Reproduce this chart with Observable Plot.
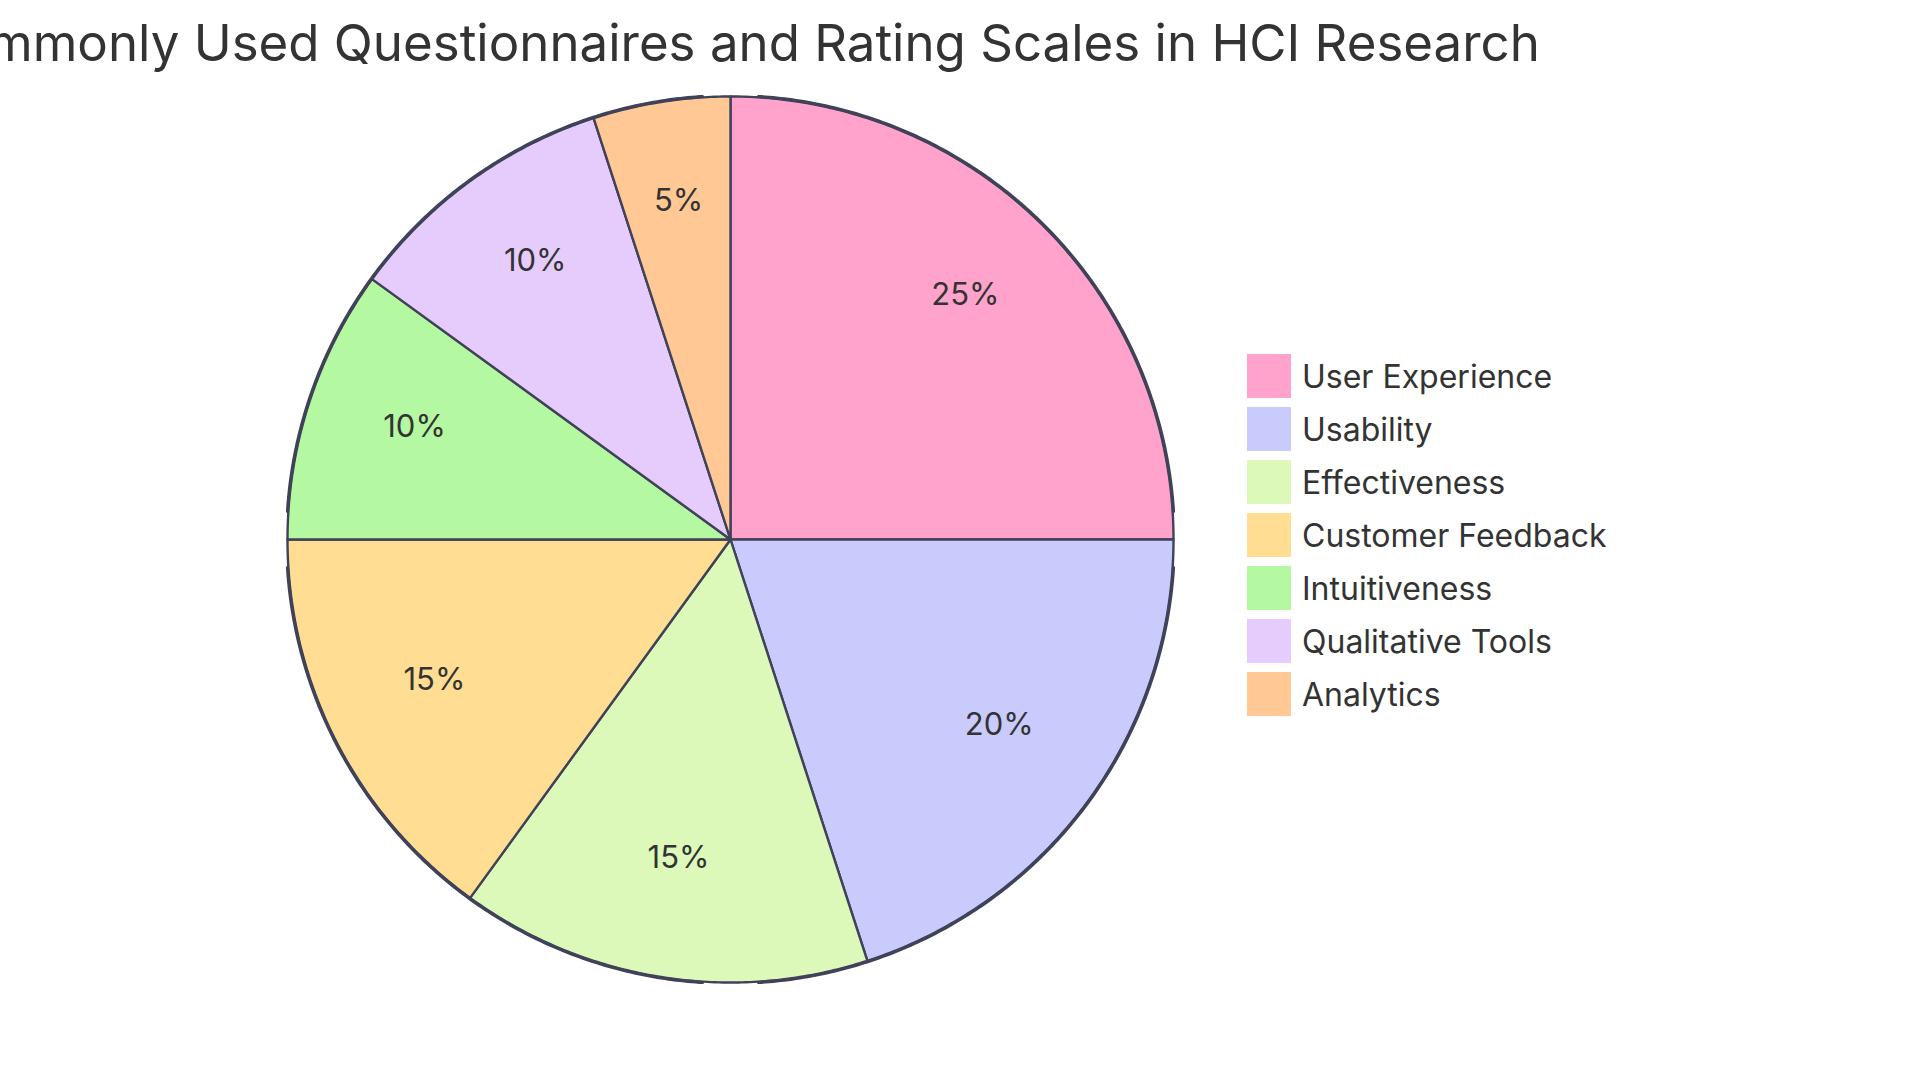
<!DOCTYPE html>
<html>
<head>
<meta charset="utf-8">
<script src="https://cdn.jsdelivr.net/npm/d3@7"></script>
<script src="https://cdn.jsdelivr.net/npm/@observablehq/plot@0.6"></script>
<style>
  html, body { margin: 0; padding: 0; width: 1920px; height: 1080px; overflow: hidden; background: #fff; }
  #wrap { position: relative; width: 1920px; height: 1080px; }
  #chart { position: absolute; left: 0; top: 0; }
  #title { position: absolute; left: 730px; top: 17px; transform: translateX(-50%); white-space: nowrap;
    font-family: Inter, "Noto Sans", sans-serif; font-size: 51px; color: #333; line-height: 1; }
  #legend { position: absolute; left: 1247px; top: 354px; }
  .lg-swatches { font-family: Inter, "Noto Sans", sans-serif !important; font-size: 32px !important; color: #333 !important; margin: 0 !important; min-height: 0 !important; }
  .lg-swatch { padding-bottom: 9px !important; display: flex !important; align-items: center !important; }
  .lg-swatch svg { margin-right: 11px !important; }
</style>
</head>
<body>
<div id="wrap">
  <div id="chart"></div>
  <div id="title">Commonly Used Questionnaires and Rating Scales in HCI Research</div>
  <div id="legend"></div>
</div>
<script>
const categories = ["User Experience", "Usability", "Effectiveness", "Customer Feedback", "Intuitiveness", "Qualitative Tools", "Analytics"];
const values = [25, 20, 15, 15, 10, 10, 5];
const colors = ["#FFA3CD", "#C9CBFD", "#DCF9BA", "#FFDE93", "#B4F8A1", "#E6CCFD", "#FFC894"];

const data = categories.map((c, i) => ({label: c, value: values[i]}));
const total = d3.sum(values);
const arcs = d3.pie().sort(null).value(d => d.value)(data);

function arcRing(a0, a1, r) {
  const n = Math.max(2, Math.ceil((a1 - a0) / (Math.PI / 360)));
  const pts = [];
  for (let k = 0; k <= n; k++) {
    const t = a0 + (a1 - a0) * k / n;
    pts.push([r * Math.sin(t), r * Math.cos(t)]);
  }
  return pts;
}

// sector polygons in unit coordinates (x = sin θ, y = cos θ; reflect-y projection flips y)
const features = arcs.map(a => ({
  type: "Feature",
  properties: {label: a.data.label, value: a.data.value},
  geometry: {type: "Polygon", coordinates: [[[0, 0], ...arcRing(a.startAngle, a.endAngle, 1), [0, 0]]]}
}));
const outline = {type: "LineString", coordinates: arcRing(0, 2 * Math.PI, 1.002)};
const labels = arcs.map(a => {
  const m = (a.startAngle + a.endAngle) / 2;
  return {x: 0.75 * Math.sin(m), y: 0.75 * Math.cos(m), text: `${(a.data.value / total * 100).toFixed(0)}%`};
});

const chart = Plot.plot({
  width: 1920,
  height: 1080,
  marginTop: 96,
  marginBottom: 98,
  marginLeft: 287,
  marginRight: 747,
  projection: {type: "reflect-y", domain: {type: "MultiPoint", coordinates: [[-1, -1], [1, 1]]}},
  color: {domain: categories, range: colors},
  style: {fontFamily: "Inter, 'Noto Sans', sans-serif", background: "transparent"},
  marks: [
    Plot.geo(features, {fill: d => d.properties.label, stroke: "#3F4258", strokeWidth: 2.4, strokeLinejoin: "round"}),
    Plot.geo([outline], {fill: "none", stroke: "#3F4258", strokeWidth: 3.2}),
    Plot.text(labels, {x: "x", y: "y", text: "text", fontSize: 31, fill: "#333", lineAnchor: "bottom", textAnchor: "middle"})
  ]
});
document.getElementById("chart").appendChild(chart);
document.getElementById("legend").appendChild(chart.legend("color", {columns: 1, swatchSize: 44, className: "lg"}));
</script>
</body>
</html>
